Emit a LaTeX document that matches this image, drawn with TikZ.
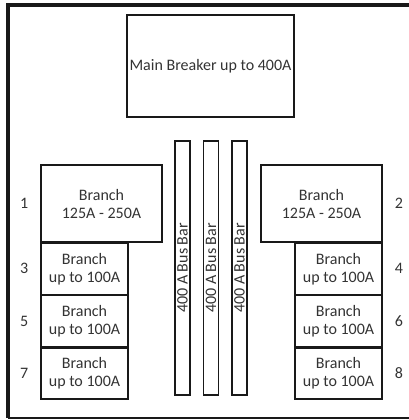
\documentclass[tikz,border=0pt]{standalone}
\usepackage{fontspec}
\setmainfont{Carlito}
\usetikzlibrary{positioning}
\tikzset{panel/.style={x=1pt,y=-1pt,font=\fontsize{16}{18}\selectfont,text=black!80}}
\tikzset{breaker/.style={draw=black!90,line width=1.3pt,align=center,inner sep=0pt}}
\tikzset{mainbrk/.style={breaker,minimum width=167pt,minimum height=102pt}}
\tikzset{bigbrk/.style={breaker,minimum width=121pt,minimum height=77pt}}
\tikzset{smallbrk/.style={breaker,minimum width=87pt,minimum height=51pt}}
\tikzset{busbar/.style={draw=black!90,line width=1.6pt,rotate=90,minimum width=254pt,minimum height=15pt,inner sep=0pt}}
\tikzset{every label/.style={inner sep=0pt,label distance=12pt,text=black!80}}
\tikzset{frame/.style={draw=black!90,line width=4pt}}

\begin{document}
\begin{tikzpicture}[panel]
  \useasboundingbox (0,0) rectangle (409,420);
  \draw[frame] (414,5) -- (8,5) -- (8,418);
  \draw[draw=black!90,line width=1.3pt] (8,418) -- (414,418);
  \node[mainbrk] (main) at (210.5,66) {Main Breaker up to 400A};
  \node[bigbrk] (br1) [label=left:1] at (101.5,203.5) {Branch\\125A - 250A};
  \node[bigbrk] (br2) [label=right:2] at (321.5,203.5) {Branch\\125A - 250A};
  \node[smallbrk] (br3) [label=left:3,below right=0pt and 0pt of br1.south west] {Branch\\up to 100A};
  \node[smallbrk] (br5) [label=left:5,below=0pt of br3] {Branch\\up to 100A};
  \node[smallbrk] (br7) [label=left:7,below=0pt of br5] {Branch\\up to 100A};
  \node[smallbrk] (br4) [label=right:4,below left=0pt and 0pt of br2.south east] {Branch\\up to 100A};
  \node[smallbrk] (br6) [label=right:6,below=0pt of br4] {Branch\\up to 100A};
  \node[smallbrk] (br8) [label=right:8,below=0pt of br6] {Branch\\up to 100A};
  \node[busbar] (bus1) at (182.5,268) {400 A Bus Bar};
  \node[busbar] (bus2) at (211,268) {400 A Bus Bar};
  \node[busbar] (bus3) at (239.5,268) {400 A Bus Bar};
\end{tikzpicture}
\end{document}
